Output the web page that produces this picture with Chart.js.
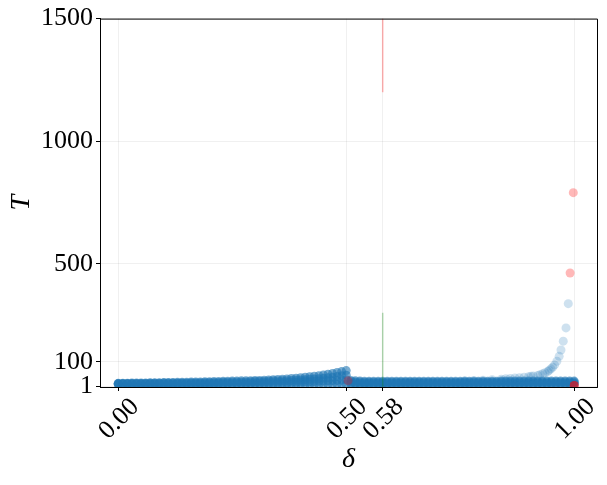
<!DOCTYPE html>
<html>
<head>
<meta charset="utf-8">
<script src="https://cdn.jsdelivr.net/npm/chart.js@4/dist/chart.umd.min.js"></script>
<style>
  html, body { margin: 0; padding: 0; background: #fff; }
  #chart { display: block; }
</style>
</head>
<body>
<canvas id="chart" width="607" height="485"></canvas>
<script>
// delta grid of the dense runs
const delta = [
  0.00, 0.01, 0.02, 0.03, 0.04, 0.05, 0.06, 0.07, 0.08, 0.09,
  0.10, 0.11, 0.12, 0.13, 0.14, 0.15, 0.16, 0.17, 0.18, 0.19,
  0.20, 0.21, 0.22, 0.23, 0.24, 0.25, 0.26, 0.27, 0.28, 0.29,
  0.30, 0.31, 0.32, 0.33, 0.34, 0.35, 0.36, 0.37, 0.38, 0.39,
  0.40, 0.41, 0.42, 0.43, 0.44, 0.45, 0.46, 0.47, 0.48, 0.49,
  0.50, 0.51, 0.52, 0.53, 0.54, 0.55, 0.56, 0.57, 0.58, 0.59,
  0.60, 0.61, 0.62, 0.63, 0.64, 0.65, 0.66, 0.67, 0.68, 0.69,
  0.70, 0.71, 0.72, 0.73, 0.74, 0.75, 0.76, 0.77, 0.78, 0.79,
  0.80, 0.81, 0.82, 0.83, 0.84, 0.85, 0.86, 0.87, 0.88, 0.89,
  0.90, 0.91, 0.92, 0.93, 0.94, 0.95, 0.96, 0.97, 0.98, 0.99,
  1.00
];

// T of four runs at each delta (lowest to highest)
const tRunA = [
  8, 8, 8, 8, 8, 8, 8, 8, 8, 8,
  8, 8, 8, 8, 8, 8, 8, 8, 8, 8,
  8, 8, 8, 8, 8, 8, 8, 8, 8, 8,
  8, 8, 8, 8, 8, 8, 8, 8, 8, 8,
  8, 8, 8, 8, 8, 8, 8, 8, 8, 8,
  8, 8, 8, 8, 8, 8, 8, 8, 8, 8,
  8, 8, 8, 8, 8, 8, 8, 8, 8, 8,
  8, 8, 8, 8, 8, 8, 8, 8, 8, 8,
  8, 8, 8, 8, 8, 8, 8, 8, 8, 8,
  8, 8, 8, 8, 8, 8, 8, 8, 8, 8,
  8
];
const tRunB = [
  9, 9, 9, 10, 10, 10, 10, 10, 10, 10,
  10, 10, 10, 11, 11, 11, 11, 11, 11, 11,
  11, 12, 12, 12, 12, 12, 12, 13, 13, 13,
  13, 13, 14, 14, 14, 15, 15, 15, 16, 16,
  17, 18, 18, 19, 20, 21, 22, 23, 24, 25,
  27, 13, 13, 12, 12, 12, 12, 12, 12, 12,
  12, 12, 12, 12, 12, 12, 12, 12, 12, 12,
  12, 12, 12, 12, 12, 12, 12, 12, 12, 12,
  12, 12, 12, 12, 12, 12, 12, 12, 12, 12,
  12, 12, 12, 12, 12, 12, 12, 12, 12, 12,
  12
];
const tRunC = [
  11, 11, 11, 11, 11, 11, 11, 12, 12, 12,
  13, 13, 13, 13, 13, 13, 14, 14, 14, 15,
  15, 15, 15, 16, 16, 17, 17, 17, 17, 18,
  19, 19, 19, 20, 21, 21, 22, 23, 24, 25,
  26, 27, 29, 30, 31, 33, 35, 37, 40, 43,
  45, 19, 17, 17, 16, 16, 16, 16, 16, 16,
  16, 16, 16, 16, 16, 16, 16, 16, 16, 16,
  16, 16, 16, 16, 16, 16, 16, 16, 16, 16,
  16, 16, 16, 16, 17, 17, 17, 17, 17, 17,
  17, 17, 17, 17, 17, 17, 17, 17, 17, 17,
  17
];
const tRunD = [
  12, 12, 12, 13, 13, 13, 13, 14, 14, 14,
  15, 15, 15, 16, 16, 16, 17, 17, 17, 18,
  18, 19, 19, 20, 20, 21, 21, 22, 22, 23,
  24, 24, 25, 26, 27, 28, 29, 30, 32, 33,
  35, 37, 39, 41, 43, 46, 49, 52, 56, 60,
  64, 24, 22, 21, 20, 20, 20, 20, 20, 20,
  20, 20, 20, 20, 20, 20, 20, 20, 20, 20,
  20, 20, 20, 20, 20, 20, 20, 20, 20, 20,
  20, 20, 20, 20, 21, 21, 21, 21, 21, 21,
  21, 21, 21, 21, 21, 21, 21, 21, 21, 21,
  21
];

// sparse points of the blow-up near delta = 1
const tailDelta = [0.76, 0.78, 0.80, 0.82, 0.84, 0.85, 0.86, 0.87, 0.88, 0.89, 0.90, 0.905, 0.91, 0.92, 0.925,
  0.931, 0.936, 0.942, 0.945, 0.949, 0.953, 0.957, 0.962, 0.967, 0.971, 0.976, 0.982, 0.987];
const tailT = [23, 24, 25, 27, 29, 31, 32, 34, 35, 37, 39, 41, 42, 44, 47,
  51, 55, 60, 65, 71, 78, 87, 102, 122, 148, 184, 238, 337];

// highlighted (red) points
const redDelta = [0.504, 0.991, 0.998, 1.0, 1.0, 1.0];
const redT = [23, 462, 790, 3, 3, 3];

// vertical markers at delta = 0.58
const markDelta = 0.58;
const redMark = [1200, 1500];
const greenMark = [-3, 300];

const xTicks = [0, 0.5, 0.58, 1.0];
const yTicks = [1, 100, 500, 1000, 1500];

const blue = a => `rgba(31, 119, 180, ${a})`;
const toPts = (xs, ys) => xs.map((x, i) => ({ x: x, y: ys[i] }));

const serif = '"Liberation Serif", "DejaVu Serif", serif';

const runSets = [tRunA, tRunB, tRunC, tRunD].map(ys => ({
  data: toPts(delta, ys),
  backgroundColor: blue(0.6),
  borderWidth: 0,
  pointRadius: 4.5,
  showLine: false,
  order: 3
}));

const frame = {
  id: 'frame',
  afterDraw(chart) {
    const { ctx, chartArea: a } = chart;
    ctx.save();
    ctx.strokeStyle = '#000';
    ctx.lineWidth = 1;
    ctx.beginPath();
    ctx.moveTo(a.left, a.top + 0.5);
    ctx.lineTo(a.right + 0.5, a.top + 0.5);
    ctx.lineTo(a.right + 0.5, a.bottom);
    ctx.stroke();
    ctx.restore();
  }
};

new Chart(document.getElementById('chart').getContext('2d'), {
  type: 'scatter',
  data: {
    datasets: [
      {
        data: toPts(redDelta, redT),
        backgroundColor: 'rgba(255, 0, 0, 0.28)',
        borderWidth: 0,
        pointRadius: 4.5,
        order: 0
      },
      {
        type: 'line',
        data: redMark.map(y => ({ x: markDelta, y: y })),
        borderColor: 'rgba(255, 0, 0, 0.3)',
        borderWidth: 1.5,
        pointRadius: 0,
        order: 1
      },
      {
        type: 'line',
        data: greenMark.map(y => ({ x: markDelta, y: y })),
        borderColor: 'rgba(0, 128, 0, 0.3)',
        borderWidth: 1.5,
        pointRadius: 0,
        order: 1
      },
      {
        data: toPts(tailDelta, tailT),
        backgroundColor: blue(0.22),
        borderWidth: 0,
        pointRadius: 4.5,
        order: 2
      },
      ...runSets
    ]
  },
  options: {
    responsive: false,
    animation: false,
    events: [],
    layout: { padding: { left: 0, top: 17, right: 10, bottom: 5 } },
    plugins: { legend: { display: false }, tooltip: { enabled: false } },
    scales: {
      x: {
        type: 'linear',
        min: -0.04,
        max: 1.05,
        afterBuildTicks: s => { s.ticks = xTicks.map(v => ({ value: v })); },
        afterFit: s => { s.height = 93; },
        grid: { color: 'rgba(0, 0, 0, 0.08)', lineWidth: 0.8, tickColor: '#000', tickLength: 4, tickWidth: 1 },
        border: { color: '#000', width: 1 },
        ticks: {
          autoSkip: false,
          minRotation: 45,
          maxRotation: 45,
          labelOffset: 17,
          padding: 1,
          color: '#000',
          font: { family: serif, size: 26 },
          callback: v => Number(v).toFixed(2)
        },
        title: {
          display: true,
          text: 'δ',
          color: '#000',
          font: { family: serif, size: 28, style: 'italic' },
          padding: { top: 0, bottom: 4 }
        }
      },
      y: {
        type: 'linear',
        min: -3,
        max: 1500,
        afterBuildTicks: s => { s.ticks = yTicks.map(v => ({ value: v })); },
        afterFit: s => { s.width = 100; },
        grid: { color: 'rgba(0, 0, 0, 0.08)', lineWidth: 0.8, tickColor: '#000', tickLength: 4, tickWidth: 1 },
        border: { color: '#000', width: 1 },
        ticks: {
          padding: 3,
          color: '#000',
          font: { family: serif, size: 26 },
          callback: v => String(v)
        },
        title: {
          display: true,
          text: 'T',
          color: '#000',
          font: { family: serif, size: 28, style: 'italic' },
          padding: { top: 5, bottom: 0 }
        }
      }
    }
  },
  plugins: [frame]
});
</script>
</body>
</html>
